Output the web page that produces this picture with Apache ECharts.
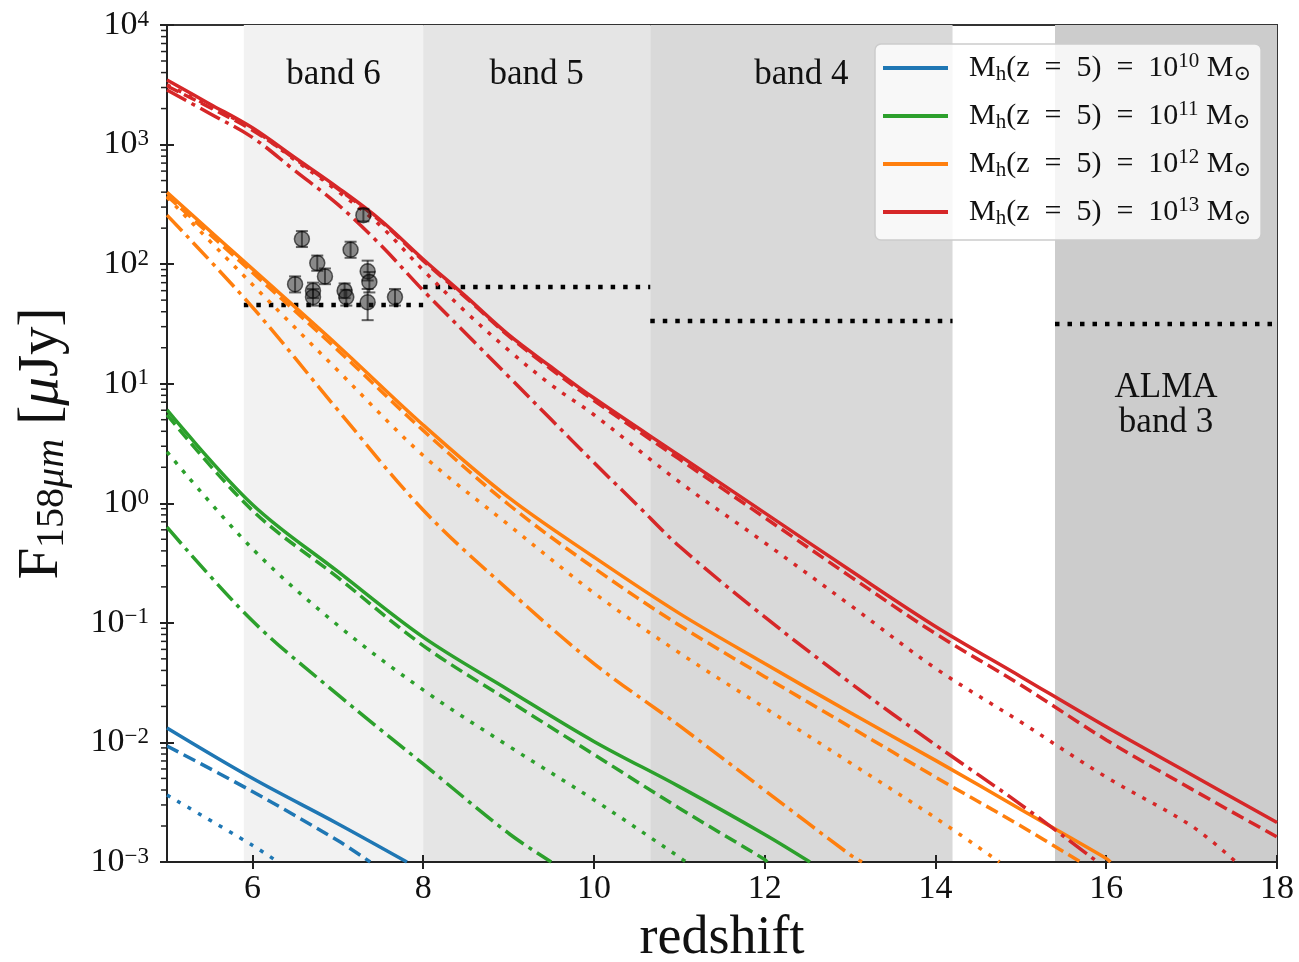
<!DOCTYPE html>
<html>
<head>
<meta charset="utf-8">
<script src="https://cdn.jsdelivr.net/npm/echarts@6/dist/echarts.min.js"></script>
<style>
  html, body { margin: 0; padding: 0; background: #fff; }
  #chart { width: 1299px; height: 962px; }
</style>
</head>
<body>
<div id="chart"></div>
<script>
// ALMA bands: redshift coverage of [CII] 158um and line sensitivity (uJy)
var bandNames = ['band 6', 'band 5', 'band 4', 'ALMA\nband 3'];
var bandStart = [5.9, 8.0, 10.66, 15.4];
var bandEnd = [8.0, 10.66, 14.2, 18.0];
var bandLimit = [45.6, 64.4, 33.4, 31.6];

// observed sources
var obsZ = [7.30, 6.58, 7.15, 6.76, 6.85, 6.50, 6.71, 6.71, 7.08, 7.10, 7.35, 7.37, 7.35, 7.67];
var obsF = [257, 162, 132, 102, 79, 68, 60, 53, 60, 53, 87, 71, 48, 53];
var obsLo = [228, 139, 113, 88, 68, 58, 52, 45, 52, 45, 73, 58, 34, 45];
var obsHi = [290, 189, 154, 118, 92, 79, 70, 62, 69, 61, 107, 86, 62, 62];

// model tracks [redshift, F158 (uJy)], one per halo mass and model variant
var m10Solid = [[5, 0.0132], [6, 0.00501], [7, 0.00209], [7.81, 0.001]];
var m10Dashed = [[5, 0.00933], [6, 0.00389], [7, 0.00151], [7.38, 0.001]];
var m10Dotted = [[5, 0.00363], [6, 0.00138], [6.3, 0.001]];

var m11Solid = [[5, 6.03], [6, 0.977], [7, 0.269], [8, 0.0759], [9, 0.0275], [10, 0.0102], [11, 0.00427], [12, 0.0017], [12.53, 0.001]];
var m11Dashed = [[5, 5.5], [6, 0.871], [7, 0.24], [8, 0.0646], [9, 0.0224], [10, 0.00794], [11, 0.00282], [12, 0.00105], [12.03, 0.001]];
var m11Dotted = [[5, 2.69], [6, 0.417], [7, 0.0955], [8, 0.0275], [9, 0.00933], [10, 0.00331], [11, 0.0011], [11.08, 0.001]];
var m11DashDot = [[5, 0.631], [6, 0.104], [7, 0.0251], [8, 0.00661], [9, 0.00174], [9.5, 0.001]];

var m12Solid = [[5, 398], [6, 91.2], [7, 20.9], [8, 4.52], [9, 1.12], [10, 0.355], [11, 0.12], [12, 0.0457], [13, 0.0178], [14, 0.00708], [15, 0.00275], [16, 0.00107], [16.05, 0.001]];
var m12Dashed = [[5, 372], [6, 85.1], [7, 19.1], [8, 4.07], [9, 0.977], [10, 0.288], [11, 0.0955], [12, 0.0355], [13, 0.0135], [14, 0.00513], [15, 0.002], [15.7, 0.001]];
var m12Dotted = [[5, 363], [6, 67.6], [7, 12.9], [8, 2.51], [9, 0.661], [10, 0.178], [11, 0.0562], [12, 0.0195], [13, 0.00676], [14, 0.00234], [14.75, 0.001]];
var m12DashDot = [[5, 257], [6, 43.7], [7, 6.03], [8, 0.879], [9, 0.188], [10, 0.0457], [11, 0.0138], [12, 0.00398], [13, 0.00115], [13.14, 0.001]];

var m13Solid = [[5, 3467], [5.5, 2188], [6, 1380], [6.5, 776], [7, 437], [7.5, 234], [8, 110], [8.5, 53.7], [9, 25.7], [9.5, 13.8], [10, 7.59], [11, 2.51], [12, 0.832], [13, 0.275], [14, 0.0933], [15, 0.0355], [16, 0.0135], [17, 0.00537], [18, 0.00214]];
var m13Dashed = [[5, 3090], [5.5, 2042], [6, 1318], [6.5, 759], [7, 427], [7.5, 229], [8, 107], [8.5, 52.5], [9, 25.1], [9.5, 13.2], [10, 7.24], [11, 2.34], [12, 0.759], [13, 0.245], [14, 0.0813], [15, 0.0302], [16, 0.0105], [17, 0.00407], [18, 0.00162]];
var m13Dotted = [[5, 3160], [5.5, 2089], [6, 1350], [6.5, 741], [7, 407], [7.5, 209], [8, 89.1], [8.5, 39.8], [9, 19.1], [9.5, 9.77], [10, 5.5], [11, 1.51], [12, 0.468], [13, 0.141], [14, 0.0417], [15, 0.0148], [16, 0.00513], [17, 0.002], [17.52, 0.001]];
var m13DashDot = [[5, 2858], [5.5, 1820], [6, 1148], [6.5, 603], [7, 316], [7.5, 145], [8, 60.3], [8.5, 26.3], [9, 11.5], [9.5, 5.01], [10, 2.19], [10.5, 0.977], [11, 0.437], [12, 0.112], [13, 0.0316], [14, 0.00955], [15, 0.00302], [15.9, 0.001]];

var massExp = ['10', '11', '12', '13'];
var xTicks = [6, 8, 10, 12, 14, 16, 18];

var colors = ['#1f77b4', '#2ca02c', '#ff7f0e', '#d62728'];
var bandFill = ['#f2f2f2', '#e5e5e5', '#d9d9d9', '#cccccc'];
var dashes = { solid: 'solid', dashed: [13, 6], dotted: [4, 8], dashdot: [22, 6, 4, 6] };
var serif = '"Liberation Serif", "DejaVu Serif", serif';

var chart = echarts.init(document.getElementById('chart'));

function massName(i) {
  return 'Mh(z = 5) = 10^' + massExp[i] + ' Msun';
}

function curve(data, i, kind, named) {
  return {
    type: 'line',
    name: named ? massName(i) : undefined,
    data: data,
    color: colors[i],
    showSymbol: false,
    symbol: 'none',
    smooth: 0.35,
    clip: true,
    z: 3,
    lineStyle: { color: colors[i], width: 3.5, type: dashes[kind], cap: 'butt' }
  };
}

// minor ticks of the log axis at k * 10^n
var minorVals = [];
for (var n = -3; n < 4; n++) {
  for (var k = 2; k < 10; k++) minorVals.push([5, k * Math.pow(10, n)]);
}

var series = [
  {
    type: 'custom',
    name: 'bands',
    z: 0,
    silent: true,
    data: bandStart.map(function (s, i) { return [s, bandEnd[i]]; }),
    renderItem: function (params, api) {
      var i = params.dataIndex;
      var p0 = api.coord([api.value(0), 1e4]);
      var p1 = api.coord([api.value(1), 1e-3]);
      var cx = (p0[0] + p1[0]) / 2;
      var ty = i === 3 ? 405 : 75;
      return {
        type: 'group',
        children: [
          { type: 'rect', shape: { x: p0[0], y: p0[1], width: p1[0] - p0[0], height: p1[1] - p0[1] }, style: { fill: bandFill[i] } },
          { type: 'text', x: cx, y: ty, style: { text: bandNames[i], font: '35px ' + serif, fill: '#111', align: 'center', verticalAlign: 'middle', lineHeight: 35 } }
        ]
      };
    }
  }
];

// sensitivity limits
bandStart.forEach(function (s, i) {
  series.push({
    type: 'line',
    data: [[s, bandLimit[i]], [bandEnd[i], bandLimit[i]]],
    symbol: 'none',
    z: 2,
    lineStyle: { color: '#000', width: 4.5, type: [4.5, 8], cap: 'butt' }
  });
});

series.push(
  curve(m10Solid, 0, 'solid', true), curve(m10Dashed, 0, 'dashed'), curve(m10Dotted, 0, 'dotted'),
  curve(m11Solid, 1, 'solid', true), curve(m11Dashed, 1, 'dashed'), curve(m11Dotted, 1, 'dotted'), curve(m11DashDot, 1, 'dashdot'),
  curve(m12Solid, 2, 'solid', true), curve(m12Dashed, 2, 'dashed'), curve(m12Dotted, 2, 'dotted'), curve(m12DashDot, 2, 'dashdot'),
  curve(m13Solid, 3, 'solid', true), curve(m13Dashed, 3, 'dashed'), curve(m13Dotted, 3, 'dotted'), curve(m13DashDot, 3, 'dashdot')
);

// error bars
series.push({
  type: 'custom',
  z: 4,
  silent: true,
  data: obsZ.map(function (z, i) { return [z, obsLo[i], obsHi[i]]; }),
  encode: { x: 0, y: [1, 2] },
  renderItem: function (params, api) {
    var top = api.coord([api.value(0), api.value(2)]);
    var bot = api.coord([api.value(0), api.value(1)]);
    var w = 6;
    var st = { stroke: 'rgba(0,0,0,0.6)', lineWidth: 2 };
    return {
      type: 'group',
      children: [
        { type: 'line', shape: { x1: top[0], y1: top[1], x2: bot[0], y2: bot[1] }, style: st },
        { type: 'line', shape: { x1: top[0] - w, y1: top[1], x2: top[0] + w, y2: top[1] }, style: st },
        { type: 'line', shape: { x1: bot[0] - w, y1: bot[1], x2: bot[0] + w, y2: bot[1] }, style: st }
      ]
    };
  }
});

series.push({
  type: 'scatter',
  z: 5,
  data: obsZ.map(function (z, i) { return [z, obsF[i]]; }),
  symbol: 'circle',
  symbolSize: 15,
  itemStyle: { color: 'rgba(30,30,30,0.62)', borderColor: 'rgba(0,0,0,0.75)', borderWidth: 1.5 }
});

// minor ticks on the left axis
series.push({
  type: 'custom',
  z: 6,
  silent: true,
  clip: false,
  data: minorVals,
  renderItem: function (params, api) {
    var p = api.coord([api.value(0), api.value(1)]);
    return { type: 'line', shape: { x1: p[0] - 6, y1: p[1], x2: p[0], y2: p[1] }, style: { stroke: '#222', lineWidth: 1.5 } };
  }
});

function yLabel(v) {
  var e = Math.round(Math.log10(v));
  var s = e < 0 ? '\u2212' + (-e) : '' + e;
  return '{b|10}{s|' + s + '}';
}

var xBase = {
  type: 'value', min: 5, max: 18,
  splitLine: { show: false },
  axisLine: { lineStyle: { color: '#222', width: 2 } }
};
var yBase = {
  type: 'log', logBase: 10, min: 0.001, max: 10000, splitNumber: 7,
  splitLine: { show: false },
  minorTick: { show: false },
  axisLine: { lineStyle: { color: '#222', width: 2 } }
};

var option = {
  animation: false,
  backgroundColor: '#fff',
  grid: {
    left: 167, right: 22, top: 25, bottom: 100,
    outerBoundsMode: 'none', containLabel: false,
    show: true, borderColor: '#333', borderWidth: 2, backgroundColor: 'transparent'
  },
  xAxis: [
    Object.assign({}, xBase, {
      name: 'redshift',
      nameLocation: 'middle',
      nameGap: 50,
      nameTextStyle: { fontFamily: serif, fontSize: 54, color: '#111' },
      axisTick: { show: true, inside: false, length: 7, customValues: xTicks, lineStyle: { color: '#222', width: 2 } },
      axisLabel: { customValues: xTicks, margin: 10, fontFamily: serif, fontSize: 34, color: '#111' }
    }),
    Object.assign({}, xBase, {
      position: 'bottom',
      axisLine: { show: false },
      axisTick: { show: true, inside: true, length: 7, customValues: xTicks, lineStyle: { color: '#222', width: 2 } },
      axisLabel: { show: false }
    })
  ],
  yAxis: [
    Object.assign({}, yBase, {
      name: '{f|F}{sub|158}{subi|\u03bcm}{f| [}{fi|\u03bc}{f|Jy]}',
      nameLocation: 'middle',
      nameGap: 95,
      nameRotate: 90,
      nameTextStyle: {
        rich: {
          f: { fontFamily: serif, fontSize: 57, color: '#111', lineHeight: 60, verticalAlign: 'middle' },
          fi: { fontFamily: serif, fontSize: 57, fontStyle: 'italic', color: '#111', lineHeight: 60, verticalAlign: 'middle' },
          sub: { fontFamily: serif, fontSize: 40, color: '#111', lineHeight: 38, verticalAlign: 'bottom' },
          subi: { fontFamily: serif, fontSize: 40, fontStyle: 'italic', color: '#111', lineHeight: 38, verticalAlign: 'bottom' }
        }
      },
      axisTick: { show: true, inside: false, length: 7, lineStyle: { color: '#222', width: 2 } },
      axisLabel: {
        margin: 18,
        formatter: yLabel,
        rich: {
          b: { fontFamily: serif, fontSize: 34, color: '#111', lineHeight: 34, verticalAlign: 'middle' },
          s: { fontFamily: serif, fontSize: 23, color: '#111', lineHeight: 24, verticalAlign: 'top' }
        }
      }
    }),
    Object.assign({}, yBase, {
      position: 'left',
      axisLine: { show: false },
      axisTick: { show: true, inside: true, length: 7, lineStyle: { color: '#222', width: 2 } },
      axisLabel: { show: false }
    })
  ],
  legend: {
    orient: 'vertical',
    left: 875,
    top: 44,
    data: [massName(0), massName(1), massName(2), massName(3)],
    icon: 'rect',
    backgroundColor: 'rgba(255,255,255,0.8)',
    borderColor: '#cccccc',
    borderWidth: 1.5,
    borderRadius: 6,
    padding: [7, 10, 11, 8],
    itemWidth: 65,
    itemHeight: 4,
    itemGap: 14,
    formatter: function (name) {
      var e = name.match(/10\^(\d+)/)[1];
      return '{t|M}{sb|h}{t|(z\u2002=\u20025)\u2002=\u200210}{sp|' + e + '}{t| M}{sb|\u2299}';
    },
    textStyle: {
      padding: [0, 0, 0, 16],
      rich: {
        t: { fontFamily: serif, fontSize: 30, color: '#111', lineHeight: 34, verticalAlign: 'middle' },
        sb: { fontFamily: serif, fontSize: 21, color: '#111', lineHeight: 22, verticalAlign: 'bottom' },
        sp: { fontFamily: serif, fontSize: 21, color: '#111', lineHeight: 24, verticalAlign: 'top' }
      }
    }
  },
  series: series
};

chart.setOption(option);
</script>
</body>
</html>
